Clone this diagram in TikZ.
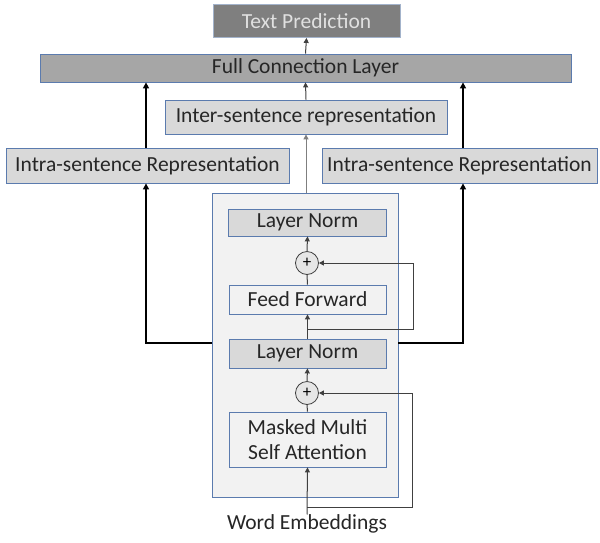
\documentclass[tikz,border=0pt]{standalone}
\usepackage{fontspec}
\setmainfont{Carlito}
\usetikzlibrary{arrows.meta}
\definecolor{bordblue}{HTML}{5B7BAE}
\definecolor{lightbord}{HTML}{A3B3CB}
\definecolor{darkfill}{HTML}{7F7F7F}
\definecolor{midfill}{HTML}{A6A6A6}
\definecolor{lightfill}{HTML}{D9D9D9}
\definecolor{bgfill}{HTML}{F2F2F2}
\definecolor{linegray}{HTML}{404040}
\tikzset{
  txt/.style={font=\fontsize{21.5}{25}\selectfont, text=black!85},
  box/.style={txt, draw=bordblue, line width=0.8pt, inner sep=0pt},
  thin/.style={draw=linegray, line width=1pt},
  thinarr/.style={thin, -{Triangle[length=5pt,width=5pt]}},
  thickarr/.style={draw=black, line width=2pt, -{Triangle[length=6pt,width=6pt]}},
  plus/.style={circle, draw=linegray, fill=bgfill!95!black, line width=0.8pt, minimum size=23pt, inner sep=0pt, font=\fontsize{17}{17}\selectfont}
}
\begin{document}
\begin{tikzpicture}[x=1pt,y=-1pt]
\useasboundingbox (0,0) rectangle (600,542);
% top boxes
\node[box, draw=lightbord, fill=darkfill, text=white!88!black, minimum width=187pt, minimum height=33pt] (tp) at (306.5,21) {Text Prediction};
\node[box, fill=midfill, minimum width=531pt, minimum height=28pt] (fc) at (305.5,68) {Full Connection Layer};
\node[box, fill=lightfill, minimum width=282pt, minimum height=34pt] (inter) at (306,117) {Inter-sentence representation};
\node[box, fill=lightfill, minimum width=283pt, minimum height=35pt] (intraL) at (147.5,165.5) {Intra-sentence Representation};
\node[box, fill=lightfill, minimum width=275pt, minimum height=35pt] (intraR) at (459.5,165.5) {Intra-sentence Representation};
% transformer block
\node[box, fill=bgfill, minimum width=186pt, minimum height=304pt] (outer) at (305,345) {};
\node[box, fill=lightfill, minimum width=158pt, minimum height=27pt] (ln1) at (307.5,222.5) {Layer Norm};
\node[plus] (p1) at (307,263) {+};
\node[box, fill=bgfill, minimum width=157pt, minimum height=29pt] (ff) at (307.5,299.5) {Feed Forward};
\node[box, fill=lightfill, minimum width=157pt, minimum height=29pt] (ln2) at (307.5,353.5) {Layer Norm};
\node[plus] (p2) at (307,393) {+};
\node[box, fill=bgfill, minimum width=157pt, minimum height=55pt, align=center] (mm) at (307.5,439.5) {Masked Multi\\Self Attention};
\node[txt, inner sep=0pt] (we) at (307,524) {Word Embeddings};
% coordinates
\coordinate (b2) at (307,507);
\coordinate (r2a) at (412,507);
\coordinate (r2b) at (412,393);
\coordinate (b1) at (307,329);
\coordinate (r1a) at (413,329);
\coordinate (r1b) at (413,263);
\coordinate (tl) at (146,343);
\coordinate (tr) at (463,343);
% connectors
\draw[thinarr] (we.north) -- (mm.south);
\draw[thinarr] (b2) -- (r2a) -- (r2b) -- (p2.east);
\draw[thin] (mm.north) -- (p2.south);
\draw[thinarr] (p2.north) -- (ln2.south);
\draw[thinarr] (ln2.north) -- (ff.south);
\draw[thinarr] (b1) -- (r1a) -- (r1b) -- (p1.east);
\draw[thin] (ff.north) -- (p1.south);
\draw[thinarr] (p1.north) -- (ln1.south);
\draw[thickarr] (outer.west |- tl) -- (tl) -- (tl |- intraL.south);
\draw[thickarr] (outer.east |- tr) -- (tr) -- (tr |- intraR.south);
\draw[thickarr] (intraL.north -| tl) -- (tl |- fc.south);
\draw[thickarr] (intraR.north -| tr) -- (tr |- fc.south);
\draw[thinarr, draw=darkfill] (outer.north -| inter) -- (inter.south);
\draw[thinarr] (inter.north) -- (fc.south);
\draw[thinarr] (fc.north) -- (tp.south);
\end{tikzpicture}
\end{document}
